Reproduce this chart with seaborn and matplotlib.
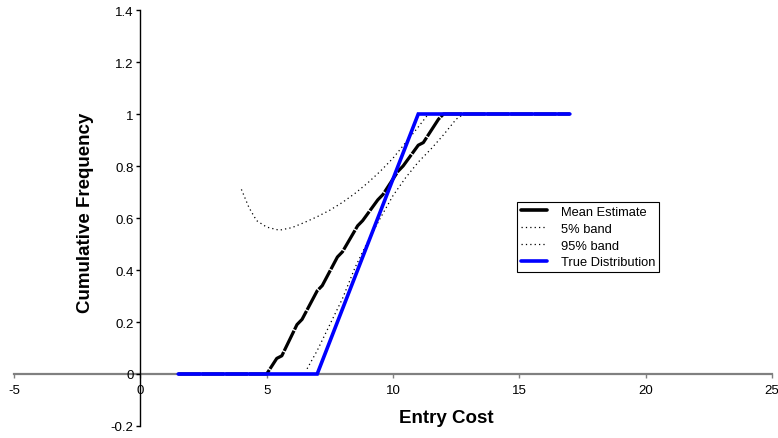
import numpy as np
import pandas as pd
import seaborn as sns
import matplotlib.pyplot as plt
from matplotlib.lines import Line2D

# values
true_x = [1.5, 7.0, 11.0, 17.0]
true_y = [0.0, 0.0, 1.0, 1.0]

mean_x = [1.5, 5.0, 5.4, 5.6, 6.2, 6.4, 7.0, 7.2, 7.8, 8.0, 8.6, 8.8,
          9.4, 9.6, 10.2, 10.4, 11.0, 11.2, 11.8, 12.0, 17.0]
mean_y = [0.0, 0.0, 0.06, 0.07, 0.19, 0.21, 0.32, 0.34, 0.45, 0.47, 0.57, 0.59,
          0.67, 0.69, 0.78, 0.80, 0.88, 0.89, 0.98, 1.0, 1.0]

band5_x = [4.0, 4.3, 4.6, 5.0, 5.5, 6.0, 6.5, 7.0, 7.5, 8.0, 8.5, 9.0,
           9.5, 10.0, 10.5, 11.0, 11.4]
band5_y = [0.71, 0.64, 0.59, 0.565, 0.553, 0.563, 0.583, 0.605, 0.63, 0.66, 0.695, 0.735,
           0.78, 0.83, 0.89, 0.95, 1.0]

band95_x = [6.6, 7.0, 7.5, 8.0, 8.5, 9.0, 9.5, 10.0, 10.5, 11.0, 11.5, 12.0, 12.5, 12.8]
band95_y = [0.02, 0.09, 0.19, 0.29, 0.41, 0.51, 0.60, 0.686, 0.755, 0.815, 0.865, 0.92, 0.98, 1.0]

x_ticks = [-5, 0, 5, 10, 15, 20, 25]
y_ticks = [-0.2, 0, 0.2, 0.4, 0.6, 0.8, 1, 1.2, 1.4]
y_labels = ['-0.2', '0', '0.2', '0.4', '0.6', '0.8', '1', '1.2', '1.4']

sns.set_style('white')
plt.rcParams['font.family'] = ['Liberation Sans', 'DejaVu Sans']
plt.rcParams['text.color'] = 'black'
plt.rcParams['xtick.color'] = 'black'
plt.rcParams['ytick.color'] = 'black'

fig = plt.figure(figsize=(7.78, 4.39), dpi=100)
ax = fig.add_axes([14 / 778, 1 - 427 / 439, 758 / 778, 416 / 439])

dotted = (0, (1, 2.5))
sns.lineplot(x=band5_x, y=band5_y, ax=ax, sort=False, estimator=None,
             color='black', lw=0.9, linestyle=dotted)
sns.lineplot(x=band95_x, y=band95_y, ax=ax, sort=False, estimator=None,
             color='black', lw=0.9, linestyle=dotted)
sns.lineplot(x=mean_x, y=mean_y, ax=ax, sort=False, estimator=None,
             color='black', lw=2.3, linestyle=(0, (7, 0.4)))
sns.lineplot(x=true_x, y=true_y, ax=ax, sort=False, estimator=None,
             color='#0000ff', lw=2.6, solid_joinstyle='miter')

ax.set_xlim(-5, 25)
ax.set_ylim(-0.2, 1.4)
ax.set_xticks(x_ticks)
ax.set_xticklabels([str(t) for t in x_ticks])
ax.set_yticks(y_ticks)
ax.set_yticklabels(y_labels)

# axes cross at the origin, like the spreadsheet chart
for s in ['top', 'right']:
    ax.spines[s].set_visible(False)
ax.spines['left'].set_position(('data', 0))
ax.spines['bottom'].set_position(('data', 0))
ax.spines['left'].set_color('black')
ax.spines['left'].set_linewidth(1)
ax.spines['bottom'].set_color('#808080')
ax.spines['bottom'].set_linewidth(1.6)
ax.spines['bottom'].set_zorder(0.5)

ax.tick_params(axis='y', direction='out', length=3, width=1, color='black',
               labelcolor='black', labelsize=9.5, pad=2, left=True)
ax.tick_params(axis='x', direction='out', length=3, width=1, color='#808080',
               labelcolor='black', labelsize=9.5, pad=4, bottom=True)

ax.set_xlabel('')
ax.set_ylabel('')
fig.text(446 / 778, 1 - 419 / 439, 'Entry Cost', fontsize=13.5, fontweight='bold',
         ha='center', va='center', color='black')
fig.text(85 / 778, 1 - 213 / 439, 'Cumulative Frequency', fontsize=13.5,
         fontweight='bold', rotation=90, ha='center', va='center', color='black')

handles = [
    Line2D([], [], color='black', lw=2.6),
    Line2D([], [], color='black', lw=0.9, linestyle=dotted),
    Line2D([], [], color='black', lw=0.9, linestyle=dotted),
    Line2D([], [], color='#0000ff', lw=2.6),
]
labels = ['Mean Estimate', '5% band', '95% band', 'True Distribution']
leg = fig.legend(handles, labels, loc='upper left',
                 bbox_to_anchor=(517 / 778, 1 - 203 / 439),
                 fontsize=9.25, frameon=True, fancybox=False, shadow=False,
                 handlelength=2.0, handletextpad=1.1, labelspacing=0.38,
                 borderpad=0.3, borderaxespad=0)
leg.get_frame().set_edgecolor('black')
leg.get_frame().set_linewidth(0.8)
leg.get_frame().set_alpha(1)
for t in leg.get_texts():
    t.set_color('black')

fig.savefig('out.png', dpi=100)
